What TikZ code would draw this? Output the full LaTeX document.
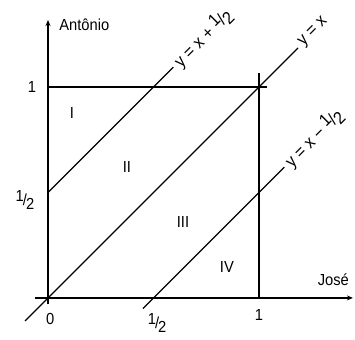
\documentclass[tikz,border=0pt]{standalone}
\usepackage{fontspec}
\setmainfont[FakeStretch=0.92]{Liberation Sans}
\usetikzlibrary{arrows.meta}
\newcommand{\meio}{\raisebox{0.5ex}{1}\kern-0.06em/\kern-0.06em\raisebox{-0.45ex}{2}}

\begin{document}
\begin{tikzpicture}[x=7.42cm, y=7.42cm, line width=1.3pt,
    font=\fontsize{16}{19}\selectfont, >={Stealth[length=6pt,width=5pt]},
    reta/.style={pos=1, sloped, anchor=west, inner sep=4pt,
      font=\fontsize{17.5}{20}\selectfont}]
  \useasboundingbox (-0.2275,-0.199) rectangle (1.455,1.412);
  % eixos
  \draw[->] (-0.062,0) -- (1.445,0);
  \draw[->] (0,-0.03) -- (0,1.317);
  \node[anchor=west] (antonio) at (0.035,1.294) {Antônio};
  \node[anchor=east] (jose) at (1.445,0.088) {José};
  % quadrado
  \draw (0,1) -- (1.038,1);
  \draw (1,0) -- (1,1.066);
  % retas
  \draw (0,0.5) -- node[reta] (r1) {y = x + \meio} (0.594,1.094);
  \draw (-0.109,-0.109) -- node[reta] (r2) {y = x} (1.185,1.185);
  \draw (0.45,-0.05) -- node[reta] (r3) {y = x − \meio} (1.12,0.62);
  % marcas
  \node (o) at (0.01,-0.1) {0};
  \node (xm) at (0.517,-0.118) {\meio};
  \node (x1) at (1.0,-0.08) {1};
  \node (y1) at (-0.076,1) {1};
  \node (ym) at (-0.109,0.464) {\meio};
  % regioes
  \node (I) at (0.113,0.877) {I};
  \node (II) at (0.374,0.62) {II};
  \node (III) at (0.64,0.36) {III};
  \node (IV) at (0.848,0.147) {IV};
\end{tikzpicture}
\end{document}
